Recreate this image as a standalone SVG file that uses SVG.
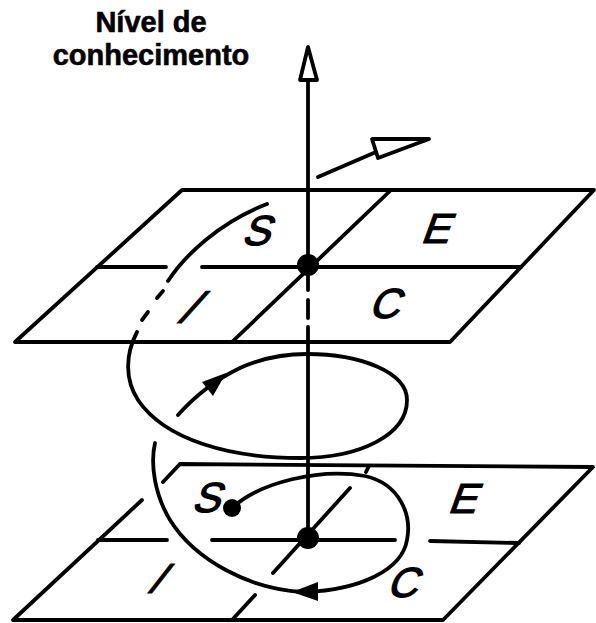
<svg xmlns="http://www.w3.org/2000/svg" width="596" height="623" viewBox="0 0 596 623">
<style>
.ln{fill:none;stroke:#000;stroke-width:3.8;stroke-linecap:round;stroke-linejoin:round}
.lt{font-family:"Liberation Sans",Arial,sans-serif;font-size:42px;fill:#000;stroke:#000;stroke-width:1.2}
.title{font-family:"Liberation Sans",Arial,sans-serif;font-weight:bold;font-size:29px;fill:#000;stroke:#000;stroke-width:0.6;text-anchor:middle}
</style>
<rect width="596" height="623" fill="#fff"/>
<g id="label">
<text class="title" x="151" y="32">Nível de</text>
<text class="title" x="151" y="65">conhecimento</text>
</g>
<g id="plane-top">
<path class="ln" d="M182,190 L594,190 L450,342 L15,342 Z"/>
<path class="ln" d="M97,267 L166,267 M202,267 L521,267"/>
<path class="ln" d="M391,190 L232,342"/>
<text class="lt" transform="translate(241,245) skewX(-20)">S</text>
<text class="lt" transform="translate(420,243) skewX(-20)">E</text>
<text class="lt" transform="translate(368,318) skewX(-20)">C</text>
<text class="lt" style="font-size:46px" transform="translate(173,323) skewX(-42)">I</text>
</g>
<g id="plane-bottom">
<path class="ln" d="M180,464 L593,467 L443,620 L13,620 L142,500 M180,464 L163,482"/>
<path class="ln" d="M98,540 L167,540 M212,540 L395,540 M430,541 L519,543"/>
<path class="ln" d="M369,466 L366,472 M350,488 L273,573 M255,595 L232,620"/>
<text class="lt" transform="translate(191,512) skewX(-20)">S</text>
<text class="lt" transform="translate(447,513) skewX(-20)">E</text>
<text class="lt" transform="translate(386,597) skewX(-20)">C</text>
<text class="lt" transform="translate(144,593) skewX(-38)">I</text>
</g>
<g id="connectors">
<g id="axis">
<path class="ln" d="M308,80 L308,265 M308,342 L308,538"/>
<path class="ln" d="M308,276 L308,290 M308,300 L308,318 M308,327 L308,340"/>
<polygon points="308,47 300,80 317,80" fill="#fff" stroke="#000" stroke-width="3.8" stroke-linejoin="round"/>
</g>
<g id="velocity-arrow">
<path class="ln" d="M318,177 L376,152"/>
<polygon points="372,139 429,139 378,158" fill="#fff" stroke="#000" stroke-width="3.8" stroke-linejoin="round"/>
</g>
<g id="spiral">
<path class="ln" d="M232,508 C260,482 320,468 365,476 C400,484 412,515 407,540 C402,570 360,590 305,592 C250,590 195,560 170,520 C155,495 150,465 155,443"/>
<polygon points="292,592 318,582 318,601" fill="#000"/>
<path class="ln" d="M178,415 C195,396 215,380 240,368 C262,358 285,354 307,354 C360,354 407,372 407,400 C407,435 360,458 300,458 C230,458 165,440 138,400 C125,380 125,355 137,332"/>
<polygon points="226,373 202,382 213,396" fill="#000"/>
<path class="ln" d="M148,312 L142,320 M163,291 L157,298"/>
<path class="ln" d="M168,281 C185,255 220,222 267,204"/>
</g>
</g>
<circle id="dot-top" cx="308" cy="265" r="11" fill="#000"/>
<circle id="dot-bottom" cx="308" cy="538" r="11" fill="#000"/>
<circle id="dot-start" cx="232" cy="508" r="9" fill="#000"/>
</svg>
